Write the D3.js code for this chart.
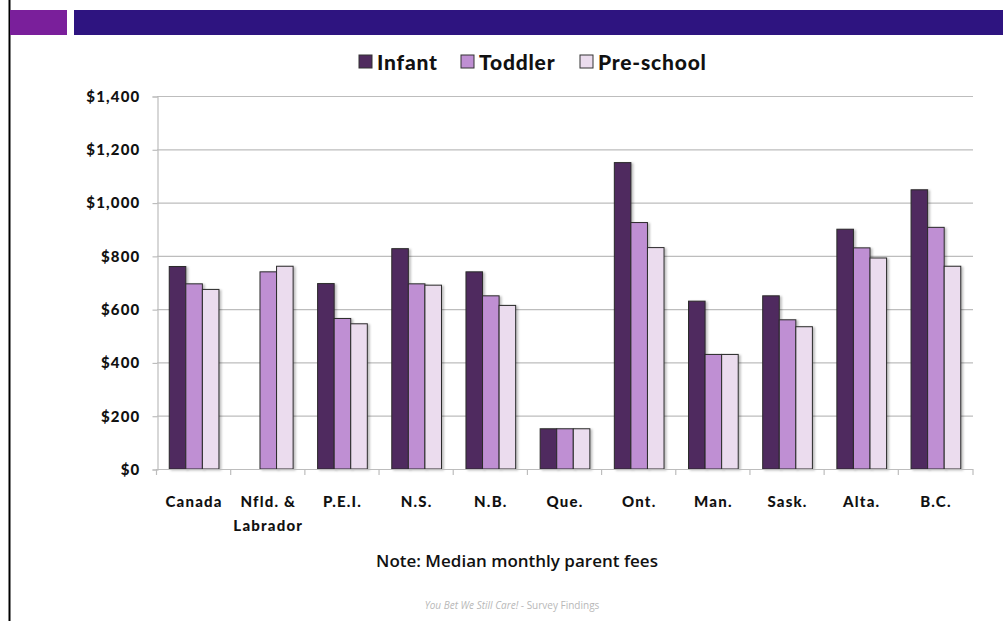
<!DOCTYPE html>
<html>
    <head>
        <title>Median monthly parent fees</title>
        <style>
        html, body {
            margin: 0;
            padding: 0;
            background: #fff;
        }
        svg {
            display: block;
        }
        </style>
    </head>
    <body>
        <svg width="1003" height="621"></svg>

        <script src="https://cdnjs.cloudflare.com/ajax/libs/d3/7.8.5/d3.min.js"></script>
        <script>
            // values (null = no bar)
            let provinces = ["Canada", "Nfld. & Labrador", "P.E.I.", "N.S.", "N.B.", "Que.", "Ont.", "Man.", "Sask.", "Alta.", "B.C."];
            let series = ["Infant", "Toddler", "Pre-school"];
            let infant = [760, null, 696, 827, 740, 151, 1150, 630, 650, 900, 1048];
            let toddler = [695, 740, 565, 695, 650, 151, 925, 430, 560, 830, 907];
            let preschool = [674, 761, 545, 690, 614, 151, 831, 430, 534, 792, 761];
            let yTicks = [0, 200, 400, 600, 800, 1000, 1200, 1400];
            let colors = ["#4f2a5e", "#bf8fd3", "#ebdcee"];

            const margin = {top: 96, left: 157, right: 30, bottom: 151};
            const width = 1003, height = 621;
            const labelFont = "'Lato', 'DejaVu Sans', sans-serif";

            let svg = d3.select("svg");

            // slide decoration
            svg.append("line")
                .attr("x1", 9.5).attr("x2", 9.5)
                .attr("y1", 0).attr("y2", height)
                .attr("stroke", "#000").attr("stroke-width", 2);
            svg.append("rect")
                .attr("x", 10).attr("y", 10).attr("width", 57).attr("height", 25)
                .attr("fill", "#7a1f9b");
            svg.append("rect")
                .attr("x", 74).attr("y", 10).attr("width", width - 74).attr("height", 25)
                .attr("fill", "#2e1480");

            let xScale = d3.scaleBand()
                .domain(provinces)
                .range([margin.left, width - margin.right])
                .paddingInner(0.33)
                .paddingOuter(0.165);

            let innerScale = d3.scaleBand()
                .domain(series)
                .range([0, xScale.bandwidth()]);

            let yScale = d3.scaleLinear()
                .domain([0, 1400])
                .range([height - margin.bottom - 1, margin.top]);

            // gridlines
            svg.append("g")
                .selectAll("line")
                .data(yTicks.slice(1))
                .enter().append("line")
                .attr("x1", margin.left)
                .attr("x2", width - margin.right)
                .attr("y1", d => yScale(d) + 0.5)
                .attr("y2", d => yScale(d) + 0.5)
                .attr("stroke", "#bdbdbd")
                .attr("stroke-width", 1.2);

            // bars
            let rows = provinces.map((p, i) => ({province: p, values: [infant[i], toddler[i], preschool[i]]}));

            let shadow = svg.append("defs").append("filter")
                .attr("id", "shadow")
                .attr("x", "-20%").attr("y", "-5%").attr("width", "160%").attr("height", "120%");
            shadow.append("feDropShadow")
                .attr("dx", 2).attr("dy", 1).attr("stdDeviation", 1.2)
                .attr("flood-color", "#000").attr("flood-opacity", 0.25);

            let groups = svg.append("g")
                .selectAll("g")
                .data(rows)
                .enter().append("g")
                .attr("transform", d => "translate(" + [xScale(d.province), 0] + ")");

            groups.selectAll("rect")
                .data(d => d.values.map((v, j) => ({key: series[j], value: v, idx: j})).filter(e => e.value != null))
                .enter().append("rect")
                .attr("x", d => innerScale(d.key))
                .attr("y", d => yScale(d.value))
                .attr("width", innerScale.bandwidth())
                .attr("height", d => yScale(0) - yScale(d.value))
                .attr("fill", d => colors[d.idx])
                .attr("stroke", "#2a2a2a")
                .attr("stroke-width", 1)
                .attr("filter", "url(#shadow)");

            // y axis
            let yAxis = d3.axisLeft(yScale)
                .tickValues(yTicks)
                .tickSize(5)
                .tickPadding(12)
                .tickFormat(d => "$" + d3.format(",")(d));

            let yg = svg.append("g")
                .attr("transform", "translate(" + [margin.left + 0.5, 0.5] + ")")
                .call(yAxis);
            yg.select(".domain").attr("stroke", "#bdbdbd").attr("stroke-width", 1.2);
            yg.selectAll(".tick line").attr("stroke", "#bdbdbd").attr("stroke-width", 1.2);
            yg.selectAll("text")
                .attr("font-family", labelFont)
                .attr("font-weight", 900)
                .attr("font-size", 15)
                .attr("letter-spacing", 1.2)
                .attr("fill", "#111");

            // x axis: ticks at band boundaries
            let step = xScale.step();
            let boundaries = provinces.map(p => xScale(p) - xScale.paddingInner() * step / 2 - 0.5);
            boundaries.push(width - margin.right);
            let xg = svg.append("g");
            xg.append("line")
                .attr("x1", margin.left).attr("x2", width - margin.right)
                .attr("y1", yScale(0) + 0.5).attr("y2", yScale(0) + 0.5)
                .attr("stroke", "#bdbdbd").attr("stroke-width", 1.2);
            xg.selectAll(".bt")
                .data(boundaries)
                .enter().append("line")
                .attr("class", "bt")
                .attr("x1", d => d).attr("x2", d => d)
                .attr("y1", yScale(0)).attr("y2", yScale(0) + 6)
                .attr("stroke", "#bdbdbd").attr("stroke-width", 1.2);

            let xLabels = xg.selectAll(".xl")
                .data(provinces)
                .enter().append("text")
                .attr("class", "xl")
                .attr("x", d => xScale(d) + xScale.bandwidth() / 2)
                .attr("y", 507)
                .attr("text-anchor", "middle")
                .attr("font-family", labelFont)
                .attr("font-weight", 900)
                .attr("font-size", 15)
                .attr("letter-spacing", 1.2)
                .attr("fill", "#111");
            xLabels.each(function(d) {
                let t = d3.select(this);
                let parts = d === "Nfld. & Labrador" ? ["Nfld. &", "Labrador"] : [d];
                parts.forEach((s, k) => {
                    t.append("tspan")
                        .attr("x", xScale(d) + xScale.bandwidth() / 2)
                        .attr("dy", k === 0 ? 0 : 24)
                        .text(s);
                });
            });

            // legend
            let legendX = [359, 461, 580];
            let legend = svg.append("g")
                .selectAll("g")
                .data(series)
                .enter().append("g")
                .attr("transform", (d, i) => "translate(" + [legendX[i], 55] + ")");
            legend.append("rect")
                .attr("width", 13).attr("height", 13)
                .attr("fill", (d, i) => colors[i])
                .attr("stroke", "#333").attr("stroke-width", 1);
            legend.append("text")
                .attr("x", 18).attr("y", 15)
                .attr("font-family", labelFont)
                .attr("font-weight", 900)
                .attr("font-size", 21)
                .attr("letter-spacing", 0.8)
                .attr("fill", "#111")
                .text(d => d);

            // note + footer
            svg.append("text")
                .attr("x", 517).attr("y", 567)
                .attr("text-anchor", "middle")
                .attr("font-family", "'Open Sans', sans-serif")
                .attr("font-weight", 600)
                .attr("font-size", 17)
                .attr("fill", "#111")
                .text("Note: Median monthly parent fees");

            let foot = svg.append("text")
                .attr("x", 512).attr("y", 609)
                .attr("text-anchor", "middle")
                .attr("font-family", "'Open Sans', sans-serif")
                .attr("font-size", 10)
                .attr("fill", "#b8b8b8");
            foot.append("tspan").attr("font-style", "italic").text("You Bet We Still Care!");
            foot.append("tspan").text(" - Survey Findings");
        </script>
    </body>
</html>
